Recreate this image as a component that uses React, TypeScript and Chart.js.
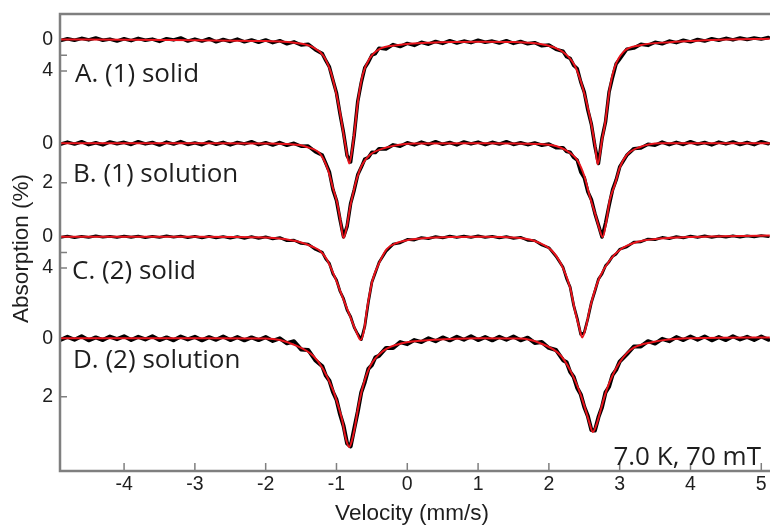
import React, { useEffect, useRef } from 'react';
import { Chart, registerables } from 'chart.js';

Chart.register(...registerables);

// ---- velocity channels (mm/s) shared by all measured spectra ----
const VELOCITY = [
  -4.9, -4.8, -4.7, -4.6, -4.5, -4.4, -4.3, -4.2, -4.1, -4.0,
  -3.9, -3.8, -3.7, -3.6, -3.5, -3.4, -3.3, -3.2, -3.1, -3.0,
  -2.9, -2.8, -2.7, -2.6, -2.5, -2.4, -2.3, -2.2, -2.1, -2.0,
  -1.9, -1.8, -1.7, -1.6, -1.5, -1.4, -1.3,
  -1.2, -1.15, -1.1, -1.05, -1.0, -0.95, -0.9, -0.85, -0.8, -0.75, -0.7, -0.65, -0.6, -0.55, -0.5, -0.45, -0.4,
  -0.3, -0.2, -0.1, 0, 0.1, 0.2, 0.3, 0.4, 0.5, 0.6, 0.7, 0.8, 0.9, 1.0, 1.1, 1.2, 1.3, 1.4, 1.5, 1.6, 1.7, 1.8, 1.9, 2.0, 2.1,
  2.2, 2.25, 2.3, 2.35, 2.4, 2.45, 2.5, 2.55, 2.6, 2.65, 2.7, 2.75, 2.8, 2.85, 2.9, 2.95, 3.0,
  3.1, 3.2, 3.3, 3.4, 3.5, 3.6, 3.7, 3.8, 3.9, 4.0, 4.1, 4.2, 4.3, 4.4, 4.5, 4.6, 4.7, 4.8, 4.9, 5.0, 5.1,
];

// ---- measured absorption (%) ----
const A_DATA = [
  0.15, -0.1, 0.1, -0.15, 0.05, -0.2, 0.1, -0.05, 0.2, -0.1,
  0.15, -0.15, 0.1, -0.05, 0.25, -0.1, 0.05, -0.2, 0.2, -0.05,
  0.2, -0.1, 0.3, 0.0, 0.25, -0.05, 0.3, 0.05, 0.35, 0.05,
  0.4, 0.15, 0.55, 0.3, 0.7, 0.6, 1.3,
  1.8, 2.7, 3.5, 5.2, 6.8, 9.5, 11.9, 14.8, 15.6, 12.2, 7.9, 5.5, 3.6, 2.9, 2.0, 1.8, 1.1,
  1.2, 0.65, 0.9, 0.5, 0.75, 0.35, 0.6, 0.25, 0.5, 0.15, 0.45, 0.2, 0.4, 0.1, 0.35, 0.2, 0.45, 0.15, 0.5, 0.25, 0.55, 0.4, 0.8, 0.7, 1.25,
  1.5, 2.2, 2.4, 3.3, 3.7, 5.4, 6.7, 9.0, 10.8, 13.6, 15.8, 12.6, 10.5, 6.7, 4.8, 3.1, 2.5,
  1.25, 1.1, 0.6, 0.75, 0.35, 0.55, 0.2, 0.4, 0.1, 0.3, 0.0, 0.2, -0.1, 0.1, -0.15, 0.05, -0.2, 0.0, -0.2, -0.05, -0.25,
];
const B_DATA = [
  0.05, -0.06, 0.04, -0.08, 0.07, -0.03, 0.08, -0.07, 0.02, -0.05,
  0.06, -0.08, 0.03, -0.04, 0.09, -0.06, 0.04, -0.09, 0.06, -0.02,
  0.07, -0.07, 0.05, -0.05, 0.08, -0.04, 0.03, -0.08, 0.07, -0.03,
  0.09, -0.04, 0.1, 0.0, 0.15, 0.14, 0.42,
  0.6, 1.02, 1.45, 2.35, 2.9, 3.88, 4.75, 4.22, 3.05, 2.38, 1.6, 1.22, 0.8, 0.72, 0.45, 0.47, 0.28,
  0.29, 0.08, 0.15, -0.03, 0.08, -0.06, 0.06, -0.08, 0.05, -0.04, 0.08, -0.07, 0.03, -0.06, 0.07, -0.05, 0.04, -0.08, 0.06, -0.03, 0.07, -0.02, 0.1, 0.04, 0.22,
  0.22, 0.42, 0.45, 0.72, 0.86, 1.46, 1.75, 2.46, 2.85, 3.56, 4.15, 4.76, 4.05, 3.16, 2.35, 1.86, 1.2,
  0.61, 0.27, 0.24, 0.05, 0.1, -0.06, 0.07, -0.05, 0.06, -0.08, 0.04, -0.04, 0.08, -0.06, 0.03, -0.07, 0.06, -0.04, 0.07, -0.08, 0.02,
];
const C_DATA = [
  0.1, -0.08, 0.12, -0.05, 0.08, -0.1, 0.06, -0.04, 0.1, -0.08,
  0.07, -0.06, 0.12, -0.05, 0.09, -0.1, 0.05, -0.06, 0.12, -0.04,
  0.14, -0.04, 0.15, -0.02, 0.17, -0.01, 0.2, 0.0, 0.22, 0.02,
  0.28, 0.12, 0.5, 0.45, 0.85, 0.95, 1.6,
  2.0, 2.85, 3.4, 4.75, 5.5, 6.95, 7.9, 9.35, 10.2, 11.55, 12.4, 13.1, 11.4, 8.35, 5.8, 4.55, 3.3,
  1.85, 0.95, 0.78, 0.35, 0.42, 0.12, 0.25, 0.0, 0.15, -0.06, 0.1, -0.08, 0.08, -0.1, 0.09, -0.05, 0.15, -0.02, 0.22, 0.08, 0.45, 0.5, 1.05, 1.4, 2.5,
  3.9, 5.35, 6.4, 8.75, 10.4, 12.45, 12.2, 10.45, 8.4, 6.95, 5.4, 4.75, 3.7, 3.2, 2.5, 2.2, 1.6,
  1.3, 0.7, 0.65, 0.3, 0.38, 0.1, 0.24, 0.0, 0.15, -0.06, 0.1, -0.1, 0.08, -0.08, 0.06, -0.12, 0.04, -0.1, 0.02, -0.14, -0.02,
];
const D_DATA = [
  0.06, -0.05, 0.05, -0.07, 0.07, -0.03, 0.06, -0.06, 0.03, -0.07,
  0.06, -0.05, 0.04, -0.07, 0.06, -0.03, 0.07, -0.06, 0.04, -0.05,
  0.07, -0.04, 0.05, -0.06, 0.06, -0.04, 0.07, -0.03, 0.06, -0.04,
  0.09, 0.0, 0.17, 0.1, 0.38, 0.4, 0.75,
  0.96, 1.28, 1.45, 1.84, 2.1, 2.6, 3.0, 3.6, 3.7, 3.1, 2.52, 1.85, 1.5, 1.05, 0.92, 0.65, 0.6,
  0.33, 0.33, 0.13, 0.2, 0.06, 0.13, 0.0, 0.1, -0.03, 0.07, -0.05, 0.05, -0.07, 0.06, -0.04, 0.07, -0.05, 0.05, -0.06, 0.07, -0.02, 0.16, 0.13, 0.33, 0.4,
  0.75, 0.82, 1.15, 1.32, 1.7, 1.92, 2.35, 2.66, 3.14, 3.16, 2.7, 2.36, 1.85, 1.66, 1.25, 1.08, 0.8,
  0.55, 0.28, 0.28, 0.1, 0.18, 0.02, 0.1, -0.04, 0.06, -0.06, 0.05, -0.06, 0.07, -0.04, 0.06, -0.07, 0.04, -0.05, 0.06, -0.06, 0.05,
];

// ---- fitted curves (velocity mm/s, absorption %) ----
const A_FIT_V = [-4.9, -4, -3, -2, -1.52, -1.33, -1.19, -1.09, -1.02, -0.95, -0.88, -0.82, -0.78, -0.74, -0.7, -0.63, -0.53, -0.39, -0.15, 0.32, 1.03, 1.59, 1.97, 2.2, 2.37, 2.48, 2.58, 2.65, 2.69, 2.75, 2.79, 2.86, 2.93, 3.05, 3.29, 3.71, 4.42, 5.12];
const A_FIT = [0, 0.03, 0.1, 0.2, 0.5, 1.0, 2.0, 3.9, 6.2, 9.3, 13.1, 15.8, 14.1, 11.3, 8.1, 4.5, 2.4, 1.2, 0.73, 0.4, 0.28, 0.34, 0.73, 1.6, 3.4, 6.2, 9.9, 13.4, 15.9, 12.8, 10.9, 6.2, 3.5, 1.6, 0.73, 0.34, 0.03, -0.1];

const B_FIT_V = [-4.9, -3, -2, -1.52, -1.42, -1.23, -1.12, -1.05, -0.99, -0.95, -0.9, -0.85, -0.81, -0.77, -0.71, -0.64, -0.53, -0.32, 0.11, 1.03, 1.87, 2.16, 2.3, 2.4, 2.5, 2.58, 2.65, 2.71, 2.76, 2.81, 2.86, 2.93, 3.0, 3.1, 3.29, 3.57, 5.12];
const B_FIT = [0, 0, 0.01, 0.09, 0.19, 0.54, 1.35, 2.27, 3.03, 3.8, 4.81, 4.15, 3.28, 2.62, 1.76, 1.1, 0.59, 0.24, 0.01, 0, 0.04, 0.21, 0.49, 0.85, 1.66, 2.73, 3.54, 4.3, 4.76, 4.0, 2.88, 2.12, 1.25, 0.59, 0.19, 0, 0];

const C_FIT_V = [-4.9, -3, -2, -1.8, -1.52, -1.33, -1.23, -1.14, -1.03, -0.91, -0.81, -0.72, -0.66, -0.61, -0.57, -0.53, -0.49, -0.39, -0.29, -0.15, 0.11, 0.6, 1.03, 1.59, 1.87, 2.06, 2.2, 2.3, 2.37, 2.43, 2.47, 2.52, 2.58, 2.65, 2.72, 2.86, 3.0, 3.24, 3.57, 3.95, 5.12];
const C_FIT = [0, 0, 0.1, 0.23, 0.68, 1.31, 1.82, 2.84, 5.0, 7.8, 10.1, 12.1, 13.16, 11.9, 9.3, 7.2, 5.5, 3.2, 1.57, 0.8, 0.29, 0.04, 0, 0.17, 0.8, 1.95, 4.0, 6.5, 9.5, 11.6, 12.84, 11.6, 9.1, 6.8, 5.1, 3.0, 1.7, 0.68, 0.23, 0.04, -0.15];

const D_FIT_V = [-4.9, -3, -2, -1.8, -1.56, -1.33, -1.19, -1.05, -0.98, -0.92, -0.87, -0.82, -0.78, -0.74, -0.7, -0.64, -0.53, -0.34, -0.06, 0.32, 1.03, 1.59, 1.87, 2.16, 2.3, 2.44, 2.51, 2.57, 2.62, 2.68, 2.72, 2.78, 2.83, 2.96, 3.15, 3.47, 3.95, 5.12];
const D_FIT = [0, 0, 0.01, 0.06, 0.26, 0.6, 1.05, 1.77, 2.28, 2.8, 3.41, 3.72, 3.48, 3.04, 2.46, 1.77, 0.98, 0.43, 0.16, 0.06, 0, 0.01, 0.16, 0.57, 1.09, 1.87, 2.39, 2.87, 3.21, 2.9, 2.56, 2.04, 1.67, 0.98, 0.4, 0.13, 0, -0.03];

// ---- labels / ticks ----
const SPECTRUM_NAMES = ['A. (1) solid', 'B. (1) solution', 'C. (2) solid', 'D. (2) solution'];
const SPECTRUM_TICKS = [[0, 2, 4], [0, 2], [0, 2, 4], [0, 2]];
const SPECTRUM_TICK_LABELS = [[0, 4], [0, 2], [0, 4], [0, 2]];
const X_TICKS = [-4, -3, -2, -1, 0, 1, 2, 3, 4, 5];
const CONDITIONS = '7.0 K, 70 mT';
const X_TITLE = 'Velocity (mm/s)';
const Y_TITLE = 'Absorption (%)';

// ---- stacking layout (vertical offset of each baseline and display gain, in stack units) ----
const STACK_LAYOUT = [
  { offset: 25.5, gain: 7.85, textX: 75, textY: 81.5, dataWidth: 3.5 },
  { offset: 129.3, gain: 19.7, textX: 73, textY: 181.5, dataWidth: 3.5 },
  { offset: 222.7, gain: 7.85, textX: 72, textY: 279.3, dataWidth: 2.8 },
  { offset: 324.3, gain: 29.2, textX: 73, textY: 368.3, dataWidth: 4 },
];
const STACK_RANGE = 457;
const X_MIN = -4.905;
const X_MAX = 5.123;

const RED = '#e8141c';
const AXIS_GRAY = '#7f7f7f';
const TEXT = '#1e1e1e';
const SANS = '"Liberation Sans", Arial, sans-serif';
const LABEL_FONT = '"Open Sans", "Noto Sans", sans-serif';

const SPECTRA = [
  { data: A_DATA, fitV: A_FIT_V, fit: A_FIT },
  { data: B_DATA, fitV: B_FIT_V, fit: B_FIT },
  { data: C_DATA, fitV: C_FIT_V, fit: C_FIT },
  { data: D_DATA, fitV: D_FIT_V, fit: D_FIT },
];

const Y_TICKS: { value: number; label: string }[] = [];
SPECTRUM_TICKS.forEach((ticks, i) => {
  const L = STACK_LAYOUT[i];
  ticks.forEach((t) => {
    Y_TICKS.push({
      value: L.offset + L.gain * t,
      label: SPECTRUM_TICK_LABELS[i].includes(t) ? String(t) : '',
    });
  });
});

const decorPlugin = {
  id: 'decor',
  beforeDatasetsDraw(chart: any) {
    const { ctx, chartArea, scales } = chart;
    const { left, bottom } = chartArea;
    ctx.save();
    ctx.strokeStyle = AXIS_GRAY;
    ctx.lineWidth = 1.5;
    ctx.beginPath();
    Y_TICKS.forEach((t) => {
      const p = scales.y.getPixelForValue(t.value);
      ctx.moveTo(left, p);
      ctx.lineTo(left + 7, p);
    });
    X_TICKS.forEach((t) => {
      const p = scales.x.getPixelForValue(t);
      ctx.moveTo(p, bottom);
      ctx.lineTo(p, bottom - 8);
    });
    ctx.stroke();
    ctx.restore();
  },
  afterDraw(chart: any) {
    const { ctx, chartArea } = chart;
    const { left, right, top, bottom } = chartArea;
    ctx.save();
    ctx.strokeStyle = AXIS_GRAY;
    ctx.lineWidth = 2.5;
    ctx.beginPath();
    ctx.moveTo(left - 1.25, top);
    ctx.lineTo(right, top);
    ctx.moveTo(left, top);
    ctx.lineTo(left, bottom);
    ctx.moveTo(left - 1.25, bottom);
    ctx.lineTo(right, bottom);
    ctx.stroke();

    ctx.fillStyle = TEXT;
    ctx.font = `26px ${LABEL_FONT}`;
    ctx.textAlign = 'left';
    ctx.textBaseline = 'alphabetic';
    SPECTRUM_NAMES.forEach((name, i) => {
      ctx.fillText(name, STACK_LAYOUT[i].textX, STACK_LAYOUT[i].textY);
    });
    ctx.textAlign = 'right';
    ctx.fillText(CONDITIONS, right - 9, bottom - 6);

    ctx.font = `22.5px ${SANS}`;
    ctx.textAlign = 'center';
    ctx.fillText(X_TITLE, (left + right) / 2 - 3, bottom + 49);
    ctx.translate(22, (top + bottom) / 2 + 6);
    ctx.rotate(-Math.PI / 2);
    ctx.textBaseline = 'middle';
    ctx.fillText(Y_TITLE, 0, 0);
    ctx.restore();
  },
};

export default function App() {
  const canvasRef = useRef<HTMLCanvasElement>(null);

  useEffect(() => {
    const datasets: any[] = [];
    SPECTRA.forEach((s, i) => {
      const L = STACK_LAYOUT[i];
      datasets.push({
        label: SPECTRUM_NAMES[i] + ' fit',
        data: s.fitV.map((v, j) => ({ x: v, y: L.offset + L.gain * s.fit[j] })),
        borderColor: RED,
        borderWidth: 2,
        pointRadius: 0,
        cubicInterpolationMode: 'monotone',
        borderJoinStyle: 'round',
        order: 1,
      });
      datasets.push({
        label: SPECTRUM_NAMES[i] + ' data',
        data: VELOCITY.map((v, j) => ({ x: v, y: L.offset + L.gain * s.data[j] })),
        borderColor: '#000000',
        borderWidth: L.dataWidth,
        borderJoinStyle: 'round',
        borderCapStyle: 'round',
        pointRadius: 0,
        tension: 0,
        order: 2,
      });
    });

    const chart = new Chart(canvasRef.current!, {
      type: 'line',
      data: { datasets },
      options: {
        responsive: false,
        animation: false,
        events: [],
        layout: { padding: { top: 14, left: 0, right: 0, bottom: 0 } },
        plugins: { legend: { display: false }, tooltip: { enabled: false } },
        scales: {
          x: {
            type: 'linear',
            min: X_MIN,
            max: X_MAX,
            grid: { display: false, drawTicks: false },
            border: { display: false },
            afterBuildTicks: (scale: any) => {
              scale.ticks = X_TICKS.map((v) => ({ value: v }));
            },
            afterFit: (scale: any) => {
              scale.height = 54;
              scale.paddingLeft = 0;
              scale.paddingRight = 0;
            },
            ticks: {
              autoSkip: false,
              maxRotation: 0,
              padding: 2,
              color: TEXT,
              font: { family: SANS, size: 19.5 },
              callback: (v: any) => String(v),
            },
          },
          y: {
            type: 'linear',
            min: 0,
            max: STACK_RANGE,
            reverse: true,
            grid: { display: false, drawTicks: false },
            border: { display: false },
            afterBuildTicks: (scale: any) => {
              scale.ticks = Y_TICKS.map((t) => ({ value: t.value }));
            },
            afterFit: (scale: any) => {
              scale.width = 60;
              scale.paddingTop = 0;
              scale.paddingBottom = 0;
            },
            ticks: {
              autoSkip: false,
              padding: 7,
              color: TEXT,
              font: { family: SANS, size: 19.5 },
              callback: (_v: any, i: number) => Y_TICKS[i].label,
            },
          },
        },
      },
      plugins: [decorPlugin],
    } as any);
    return () => chart.destroy();
  }, []);

  return (
    <div style={{ position: 'absolute', left: 0, top: 0, width: 770, height: 525, background: '#fff' }}>
      <canvas ref={canvasRef} width={770} height={525} />
    </div>
  );
}
